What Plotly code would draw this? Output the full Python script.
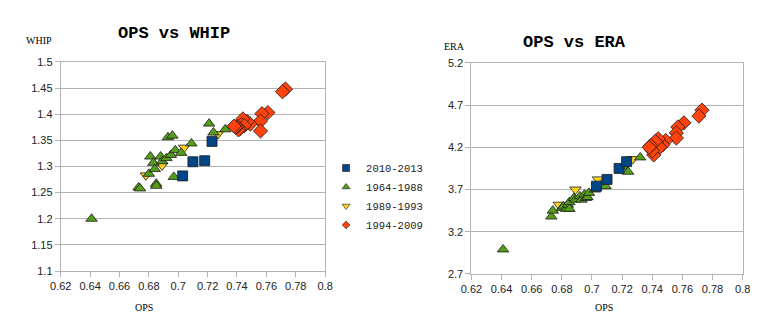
import plotly.graph_objects as go

# ---- data (OPS, WHIP, ERA) per era ----
labels = ["2010-2013", "1964-1988", "1989-1993", "1994-2009"]

ops_2010 = [0.703, 0.710, 0.718, 0.723]
whip_2010 = [1.282, 1.309, 1.311, 1.348]
era_2010 = [3.74, 3.82, 3.95, 4.03]

ops_1964 = [0.641, 0.673, 0.674, 0.680, 0.681, 0.683, 0.684, 0.685, 0.685, 0.688, 0.689,
            0.692, 0.693, 0.695, 0.696, 0.697, 0.698, 0.702, 0.709, 0.721, 0.724, 0.732]
whip_1964 = [1.200, 1.260, 1.258, 1.286, 1.319, 1.307, 1.295, 1.267, 1.263, 1.319, 1.310,
             1.316, 1.356, 1.322, 1.359, 1.280, 1.331, 1.326, 1.344, 1.382, 1.365, 1.371]
era_1964 = [2.99, 3.38, 3.45, 3.48, 3.50, 3.47, 3.52, 3.55, 3.47, 3.60, 3.58,
            3.62, 3.58, 3.64, 3.60, 3.61, 3.66, 3.70, 3.74, 3.97, 3.91, 4.08]

ops_1989 = [0.678, 0.689, 0.704, 0.727]
whip_1989 = [1.283, 1.302, 1.336, 1.362]
era_1989 = [3.52, 3.70, 3.82, 4.06]

ops_1994 = [0.773, 0.771, 0.761, 0.757, 0.756, 0.756, 0.749, 0.747, 0.744, 0.743, 0.745,
            0.742, 0.741, 0.740, 0.739, 0.738]
whip_1994 = [1.448, 1.443, 1.403, 1.401, 1.387, 1.368, 1.381, 1.386, 1.391, 1.380, 1.378,
             1.372, 1.370, 1.376, 1.375, 1.377]
era_1994 = [4.64, 4.57, 4.49, 4.44, 4.37, 4.31, 4.28, 4.23, 4.30, 4.25, 4.20,
            4.27, 4.11, 4.16, 4.22, 4.20]

x_ticks = [0.62, 0.64, 0.66, 0.68, 0.70, 0.72, 0.74, 0.76, 0.78, 0.80]
x_tick_text = ["0.62", "0.64", "0.66", "0.68", "0.7", "0.72", "0.74", "0.76", "0.78", "0.8"]
whip_ticks = [1.1, 1.15, 1.2, 1.25, 1.3, 1.35, 1.4, 1.45, 1.5]
whip_tick_text = ["1.1", "1.15", "1.2", "1.25", "1.3", "1.35", "1.4", "1.45", "1.5"]
era_ticks = [2.7, 3.2, 3.7, 4.2, 4.7, 5.2]
era_tick_text = ["2.7", "3.2", "3.7", "4.2", "4.7", "5.2"]

series = [
    # label, ops, whip, era, color, symbol, size, legend rank, legend size
    ("1989-1993", ops_1989, whip_1989, era_1989, "#FFD320", "triangle-down", 10, 3, 7),
    ("1964-1988", ops_1964, whip_1964, era_1964, "#579D1C", "triangle-up", 10, 2, 7),
    ("2010-2013", ops_2010, whip_2010, era_2010, "#004586", "square", 10, 1, 7),
    ("1994-2009", ops_1994, whip_1994, era_1994, "#FF420E", "diamond", 11, 4, 6),
]

W, H = 776, 332
def px(x): return x / W
def py(y): return 1 - y / H

fig = go.Figure()
for name, ops, whip, era, col, sym, sz, rank, lsz in series:
    mk = dict(color=col, symbol=sym, size=sz, line=dict(color="#1a1a1a", width=0.8))
    fig.add_trace(go.Scatter(x=ops, y=whip, mode="markers", name=name, marker=mk,
                             xaxis="x", yaxis="y", showlegend=False))
    fig.add_trace(go.Scatter(x=ops, y=era, mode="markers", name=name, marker=mk,
                             xaxis="x2", yaxis="y2", showlegend=False))
    # small legend-only entry
    fig.add_trace(go.Scatter(x=[None], y=[None], mode="markers", name=name,
                             marker=dict(color=col, symbol=sym, size=lsz,
                                         line=dict(color="#1a1a1a", width=0.6)),
                             xaxis="x", yaxis="y", showlegend=True, legendrank=rank))

grid = "#b3b3b3"
tickfont = dict(family="Liberation Sans, Arial, sans-serif", size=11, color="#222222")
common_x = dict(range=[0.62, 0.80], tickvals=x_ticks, ticktext=x_tick_text, showgrid=False,
                zeroline=False, showline=True, linecolor=grid, linewidth=1, mirror=True,
                ticks="outside", ticklen=5, tickcolor=grid, tickfont=tickfont)
common_y = dict(showgrid=True, gridcolor=grid, gridwidth=1, zeroline=False, showline=True,
                linecolor=grid, linewidth=1, mirror=True, ticks="outside", ticklen=5,
                tickcolor=grid, tickfont=tickfont)

fig.update_layout(
    width=W, height=H, margin=dict(l=0, r=0, t=0, b=0),
    paper_bgcolor="white", plot_bgcolor="white",
    xaxis=dict(domain=[px(51), px(322)], anchor="y", **common_x),
    yaxis=dict(domain=[py(275), py(58)], anchor="x", range=[1.1, 1.5],
               tickvals=whip_ticks, ticktext=whip_tick_text, **common_y),
    xaxis2=dict(domain=[px(472), px(750)], anchor="y2", **common_x),
    yaxis2=dict(domain=[py(278), py(59)], anchor="x2", range=[2.7, 5.2],
                tickvals=era_ticks, ticktext=era_tick_text, **common_y),
    legend=dict(x=px(323), y=py(153), xanchor="left", yanchor="top",
                font=dict(family="Liberation Mono, Courier New, monospace", size=10.5, color="#222222"),
                bgcolor="rgba(0,0,0,0)", itemsizing="trace", tracegroupgap=0,
                itemwidth=30),
    showlegend=True,
)

title_font = dict(family="Liberation Mono, Courier New, monospace", size=17, color="#000000")
label_font = dict(family="Liberation Serif, Times New Roman, serif", size=10, color="#000000")
ann = [
    dict(text="<b>OPS vs WHIP</b>", x=px(167), y=py(29), font=title_font),
    dict(text="<b>OPS vs ERA</b>", x=px(578), y=py(38), font=title_font),
    dict(text="WHIP", x=px(29), y=py(36), font=label_font),
    dict(text="ERA", x=px(455), y=py(42), font=label_font),
    dict(text="OPS", x=px(136), y=py(313), font=label_font),
    dict(text="OPS", x=px(608), y=py(313), font=label_font),
]
for a in ann:
    fig.add_annotation(xref="paper", yref="paper", showarrow=False,
                       xanchor="center", yanchor="middle", **a)

fig.write_html("out.html")
